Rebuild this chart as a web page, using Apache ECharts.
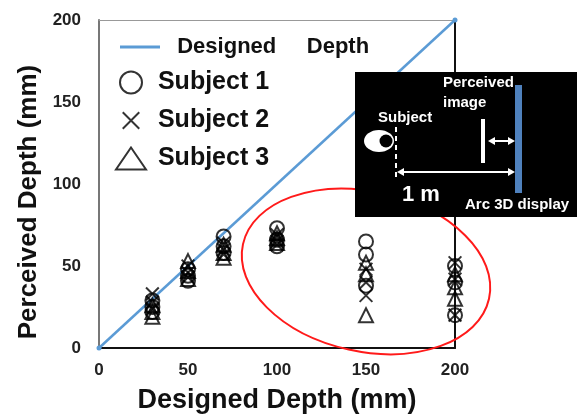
<!DOCTYPE html>
<html><head><meta charset="utf-8">
<script src="https://cdn.jsdelivr.net/npm/echarts@6/dist/echarts.min.js"></script>
<style>html,body{margin:0;padding:0;background:#fff}#c{width:577px;height:419px}</style>
</head><body><div id="c"></div>
<script>
// ---- data ----
const depths = [30, 50, 70, 100, 150, 200];
const subject1 = [[29,25,22],[48,44,41],[68,62,58],[73,66,62],[65,57,38],[50,40,20]];
const subject2 = [[33,28,24],[50,46,43],[64,60,57],[69,65,63],[48,40,32],[52,42,20]];
const subject3 = [[26,22,19],[53,47,42],[63,58,55],[70,67,64],[52,45,20],[45,37,30]];
const designedX = [0, 200];
const designedY = [0, 200];
const seriesNames = ['Designed Depth', 'Subject 1', 'Subject 2', 'Subject 3'];
const axisMin = 0, axisMax = 200, axisStep = 50;
const xAxisName = 'Designed Depth (mm)';
const yAxisName = 'Perceived Depth (mm)';
const ellipseCenter = [150, 46.7];

function pairs(vals){ const out=[]; depths.forEach((d,i)=>vals[i].forEach(v=>out.push([d,v]))); return out; }

const FONT = '"Liberation Sans", Arial, sans-serif';
const chart = echarts.init(document.getElementById('c'), null, {renderer:'canvas'});
const markerStyle = {color:'transparent', borderColor:'#000', borderWidth:2};
const crossPath = 'path://M0,0M20,20M2.5,2.5L17.5,17.5M17.5,2.5L2.5,17.5';

chart.setOption({
  animation:false,
  backgroundColor:'#fff',
  grid:{left:99, right:122, top:20, bottom:69, show:false},
  legend:[
    {data:[{name:seriesNames[0], icon:'path://M0,0H40V3H0Z'}], left:115, top:31, itemWidth:40, itemHeight:3,
     formatter:function(n){return '  Designed     Depth';},
     textStyle:{fontFamily:FONT, fontWeight:'bold', fontSize:22, color:'#111'}},
    {data:seriesNames.slice(1), orient:'vertical', left:110, top:65, itemWidth:30, itemHeight:22, itemGap:13,
     formatter:function(n){return ' '+n;},
     textStyle:{fontFamily:FONT, fontWeight:'bold', fontSize:25, color:'#111'}}
  ],
  xAxis:[
    {type:'value', min:axisMin, max:axisMax, interval:axisStep, position:'bottom',
     name:xAxisName, nameLocation:'middle', nameGap:39,
     nameTextStyle:{fontFamily:FONT, fontWeight:'bold', fontSize:27, color:'#111'},
     axisLine:{show:true, onZero:false, lineStyle:{color:'#111', width:2}}, axisTick:{show:false},
     splitLine:{show:false},
     axisLabel:{margin:14, fontFamily:FONT, fontWeight:'bold', fontSize:17, color:'#222'}},
    {type:'value', min:axisMin, max:axisMax, position:'top', axisLine:{show:true, onZero:false, lineStyle:{color:'#999', width:1}},
     axisTick:{show:false}, axisLabel:{show:false}, splitLine:{show:false}}
  ],
  yAxis:[
    {type:'value', min:axisMin, max:axisMax, interval:axisStep, position:'left',
     name:yAxisName, nameLocation:'middle', nameGap:56, nameRotate:90,
     nameTextStyle:{fontFamily:FONT, fontWeight:'bold', fontSize:26, color:'#111', padding:[0,36,0,0]},
     axisLine:{show:true, onZero:false, lineStyle:{color:'#777', width:2}}, axisTick:{show:false},
     splitLine:{show:false},
     axisLabel:{margin:18, fontFamily:FONT, fontWeight:'bold', fontSize:17, color:'#222'}},
    {type:'value', min:axisMin, max:axisMax, position:'right', axisLine:{show:true, onZero:false, lineStyle:{color:'#111', width:2}},
     axisTick:{show:false}, axisLabel:{show:false}, splitLine:{show:false}}
  ],
  series:[
    {name:seriesNames[0], type:'line', data:designedX.map((x,i)=>[x,designedY[i]]),
     symbol:'circle', symbolSize:5, showSymbol:true, z:1,
     lineStyle:{color:'#5b9bd5', width:2.5}, itemStyle:{color:'#5b9bd5'}},
    {name:seriesNames[1], type:'scatter', data:pairs(subject1), symbol:'circle', symbolSize:14, itemStyle:markerStyle, z:3},
    {name:seriesNames[2], type:'scatter', data:pairs(subject2), symbol:crossPath, symbolSize:17, itemStyle:markerStyle, z:3},
    {name:seriesNames[3], type:'scatter', data:pairs(subject3), symbol:'triangle', symbolSize:14, itemStyle:markerStyle, z:3}
  ]
});

const c = chart.convertToPixel({gridIndex:0}, ellipseCenter);
const W = '#fff';
function arrow(x1, x2, y){
  return [
    {type:'polyline', shape:{points:[[x1+3,y],[x2-3,y]]}, style:{stroke:W, lineWidth:2}, z:101},
    {type:'polygon', shape:{points:[[x1,y],[x1+7,y-4],[x1+7,y+4]]}, style:{fill:W}, z:101},
    {type:'polygon', shape:{points:[[x2,y],[x2-7,y-4],[x2-7,y+4]]}, style:{fill:W}, z:101}
  ];
}
chart.setOption({graphic:[
  {type:'ellipse', x:c[0], y:c[1], rotation:-12.5*Math.PI/180, shape:{cx:0, cy:0, rx:126, ry:80},
   style:{fill:'none', stroke:'#ff1a1a', lineWidth:2}, z:50},
  {type:'rect', shape:{x:355, y:72, width:222, height:145}, style:{fill:'#000'}, z:100},
  {type:'ellipse', shape:{cx:379, cy:141, rx:15, ry:11}, style:{fill:W}, z:101},
  {type:'circle', shape:{cx:386, cy:141, r:6.5}, style:{fill:'#000'}, z:102},
  {type:'line', shape:{x1:396, y1:127, x2:396, y2:181}, style:{stroke:W, lineWidth:2, lineDash:[5,4]}, z:101},
  {type:'rect', shape:{x:481, y:119, width:4, height:44}, style:{fill:W}, z:101},
  {type:'rect', shape:{x:515, y:85, width:7, height:108}, style:{fill:'#4f81bd'}, z:101},
  ...arrow(488, 515, 141),
  ...arrow(397, 515, 172),
  {type:'text', x:378, y:118, style:{text:'Subject', fill:W, font:'bold 15px '+FONT, textVerticalAlign:'middle'}, z:103},
  {type:'text', x:443, y:83, style:{text:'Perceived', fill:W, font:'bold 15px '+FONT, textVerticalAlign:'middle'}, z:103},
  {type:'text', x:443, y:103, style:{text:'image', fill:W, font:'bold 15px '+FONT, textVerticalAlign:'middle'}, z:103},
  {type:'text', x:402, y:195, style:{text:'1 m', fill:W, font:'bold 22px '+FONT, textVerticalAlign:'middle'}, z:103},
  {type:'text', x:465, y:205, style:{text:'Arc 3D display', fill:W, font:'bold 15px '+FONT, textVerticalAlign:'middle'}, z:103}
]});
</script></body></html>
